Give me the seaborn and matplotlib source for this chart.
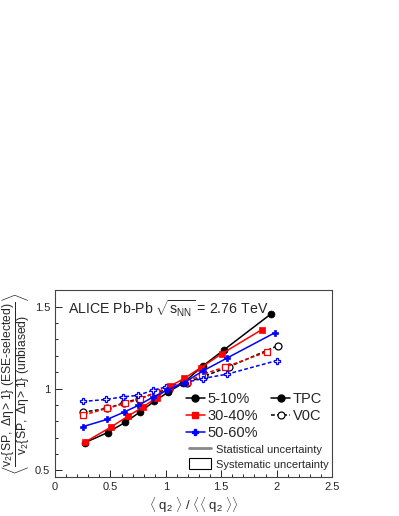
import matplotlib
matplotlib.use("Agg")
import matplotlib.pyplot as plt
import seaborn as sns
import numpy as np
import pandas as pd
from matplotlib.lines import Line2D
from matplotlib.patches import Rectangle
from matplotlib.ticker import MultipleLocator

# <q2>/<<q2>> bin positions and v2 ratios
q2_010_tpc = [0.271, 0.474, 0.632, 0.763, 0.894, 1.023, 1.158, 1.333, 1.525, 1.949]
r_010_tpc = [0.670, 0.731, 0.793, 0.855, 0.921, 0.979, 1.034, 1.137, 1.236, 1.455]
q2_3040_tpc = [0.271, 0.505, 0.656, 0.792, 0.918, 1.038, 1.167, 1.315, 1.505, 1.866]
r_3040_tpc = [0.673, 0.765, 0.830, 0.887, 0.945, 1.014, 1.062, 1.127, 1.212, 1.359]
q2_5060_tpc = [0.250, 0.472, 0.623, 0.752, 0.887, 1.014, 1.167, 1.333, 1.550, 1.986]
r_5060_tpc = [0.767, 0.812, 0.856, 0.897, 0.949, 0.990, 1.036, 1.107, 1.185, 1.341]

q2_010_v0c = [0.250, 0.472, 0.623, 0.761, 0.912, 1.026, 1.189, 1.345, 1.573, 2.010]
r_010_v0c = [0.855, 0.879, 0.913, 0.939, 0.973, 1.000, 1.036, 1.075, 1.133, 1.261]
q2_3040_v0c = [0.255, 0.472, 0.632, 0.767, 0.912, 1.032, 1.189, 1.324, 1.534, 1.916]
r_3040_v0c = [0.838, 0.879, 0.909, 0.935, 0.979, 1.006, 1.038, 1.085, 1.131, 1.224]
q2_5060_v0c = [0.250, 0.460, 0.611, 0.746, 0.887, 1.005, 1.173, 1.333, 1.550, 2.000]
r_5060_v0c = [0.921, 0.933, 0.949, 0.958, 0.990, 1.010, 1.036, 1.061, 1.087, 1.170]

centralities = ["5-10%", "30-40%", "50-60%"]
colors = {"5-10%": "black", "30-40%": "red", "50-60%": "blue"}
markers = {"5-10%": "o", "30-40%": "s", "50-60%": "P"}

rows = []
for cent, xs, ys in [("5-10%", q2_010_tpc, r_010_tpc), ("30-40%", q2_3040_tpc, r_3040_tpc),
                     ("50-60%", q2_5060_tpc, r_5060_tpc)]:
    for x, y in zip(xs, ys):
        rows.append({"cent": cent, "det": "TPC", "q2": x, "ratio": y})
for cent, xs, ys in [("5-10%", q2_010_v0c, r_010_v0c), ("30-40%", q2_3040_v0c, r_3040_v0c),
                     ("50-60%", q2_5060_v0c, r_5060_v0c)]:
    for x, y in zip(xs, ys):
        rows.append({"cent": cent, "det": "V0C", "q2": x, "ratio": y})
df = pd.DataFrame(rows)

sns.set_style("ticks")
plt.rcParams["font.family"] = ["Liberation Sans", "DejaVu Sans"]
plt.rcParams["mathtext.fontset"] = "custom"
plt.rcParams["mathtext.rm"] = "Liberation Sans"
plt.rcParams["mathtext.it"] = "Liberation Sans:italic"
plt.rcParams["mathtext.sf"] = "Liberation Sans"

fig = plt.figure(figsize=(3.99, 5.16), dpi=100)
ax = fig.add_axes([0.138, 0.0756, 0.694, 0.362])

# V0C first (dashed, open), then TPC on top
for det, ls, mfc in [("V0C", (0, (2.5, 1.5)), "none"), ("TPC", "-", None)]:
    for cent in centralities:
        sub = df[(df.det == det) & (df.cent == cent)]
        c = colors[cent]
        sns.lineplot(data=sub, x="q2", y="ratio", ax=ax, color=c, linewidth=1.1,
                     linestyle=ls, marker=markers[cent], markersize=5,
                     markerfacecolor=c if mfc is None else "white",
                     markeredgecolor=c, markeredgewidth=0.9 if mfc else 0.5,
                     legend=False, zorder=3 if det == "TPC" else 2)

ax.set_xlim(0, 2.5)
ax.set_ylim(0.46, 1.6)
ax.xaxis.set_major_locator(MultipleLocator(0.5))
ax.xaxis.set_minor_locator(MultipleLocator(0.1))
ax.yaxis.set_major_locator(MultipleLocator(0.5))
ax.yaxis.set_minor_locator(MultipleLocator(0.1))
ax.set_xticks([0, 0.5, 1, 1.5, 2, 2.5], ["0", "0.5", "1", "1.5", "2", "2.5"])
ax.set_yticks([0.5, 1, 1.5], ["0.5", "1", "1.5"])
ax.tick_params(which="both", direction="in", labelsize=8, width=0.7)
ax.tick_params(which="major", length=5)
ax.tick_params(which="minor", length=2.5)
for s in ax.spines.values():
    s.set_linewidth(0.8)
    s.set_color("#444444")

ax.set_xlabel(r"$\langle\ \mathrm{q_2}\ \rangle\ /\ \langle\langle\ \mathrm{q_2}\ \rangle\rangle$",
              fontsize=9.5, labelpad=2)
ax.set_ylabel(r"$\left\langle\frac{\mathrm{v_2\{SP,\ \Delta\eta>1\}\ (ESE\text{-}selected)}}"
              r"{\mathrm{v_2\{SP,\ \Delta\eta>1\}\ (unbiased)}}\right\rangle$",
              fontsize=12.5, labelpad=1)

ax.text(0.045, 0.955, r"ALICE Pb-Pb $\sqrt{\mathrm{s_{NN}}}$ = 2.76 TeV",
        transform=ax.transAxes, fontsize=10.2, va="top", ha="left")

h_cent = [Line2D([], [], color=colors[c], marker=markers[c], markersize=5, lw=1.1,
                 markeredgecolor=colors[c]) for c in centralities]
h_det = [Line2D([], [], color="black", marker="o", markersize=5, lw=1.1),
         Line2D([], [], color="black", marker="o", markersize=5, lw=1.1, ls=(0, (2.5, 1.5)),
                markerfacecolor="white", markeredgewidth=0.9),
         Line2D([], [], color="none")]
leg1 = ax.legend(h_cent + h_det, centralities + ["TPC", "V0C", ""], ncol=2,
                 loc="upper left", bbox_to_anchor=(0.44, 0.50), frameon=False,
                 fontsize=10.5, handlelength=1.3, handletextpad=0.2,
                 columnspacing=0.9, labelspacing=0.2, borderpad=0.1)
ax.add_artist(leg1)

h_unc = [Line2D([], [], color="#888888", lw=2),
         Rectangle((0, 0), 1, 1, facecolor="none", edgecolor="black", lw=0.8)]
ax.legend(h_unc, ["Statistical uncertainty", "Systematic uncertainty"],
          loc="upper left", bbox_to_anchor=(0.46, 0.215), frameon=False,
          fontsize=8, handlelength=2.0, handleheight=1.1, handletextpad=0.4,
          labelspacing=0.35, borderpad=0.1)

fig.savefig("out.png", dpi=100)
